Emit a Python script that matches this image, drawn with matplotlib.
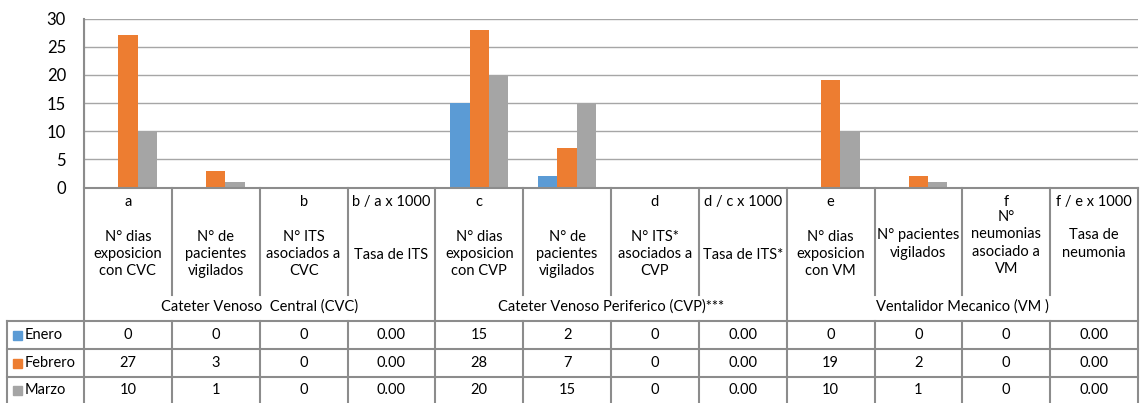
import numpy as np
import matplotlib.pyplot as plt

plt.rcParams['font.family'] = ['Lato', 'DejaVu Sans']

# data
letters = ['a', '', 'b', 'b / a x 1000', 'c', '', 'd', 'd / c x 1000',
           'e', '', 'f', 'f / e x 1000']
descriptions = ['N° dias\nexposicion\ncon CVC', 'N° de\npacientes\nvigilados',
                'N° ITS\nasociados a\nCVC', 'Tasa de ITS',
                'N° dias\nexposicion\ncon CVP', 'N° de\npacientes\nvigilados',
                'N° ITS*\nasociados a\nCVP', 'Tasa de ITS*',
                'N° dias\nexposicion\ncon VM', 'N° pacientes\nvigilados',
                'N°\nneumonias\nasociado a\nVM', 'Tasa de\nneumonia']
groups = ['Cateter Venoso  Central (CVC)', 'Cateter Venoso Periferico (CVP)***',
          'Ventalidor Mecanico (VM )']
months = ['Enero', 'Febrero', 'Marzo']
enero = [0, 0, 0, 0.00, 15, 2, 0, 0.00, 0, 0, 0, 0.00]
febrero = [27, 3, 0, 0.00, 28, 7, 0, 0.00, 19, 2, 0, 0.00]
marzo = [10, 1, 0, 0.00, 20, 15, 0, 0.00, 10, 1, 0, 0.00]
rate_cols = [3, 7, 11]
colors = ['#5B9BD5', '#ED7D31', '#A5A5A5']

W, H = 1141, 403
fig = plt.figure(figsize=(W / 100, H / 100), dpi=100)

# plot area in pixel units
x0, x1 = 84, 1138
y_top, y_zero = 18.5, 187.5
ax = fig.add_axes([x0 / W, 1 - y_zero / H, (x1 - x0) / W, (y_zero - y_top) / H])
n = len(letters)
idx = np.arange(n)
bw = 0.22
for k, vals in enumerate([enero, febrero, marzo]):
    ax.bar(idx + (k - 1) * bw, vals, bw, color=colors[k], zorder=3)
ax.set_xlim(-0.5, n - 0.5)
ax.set_ylim(0, 30)
ax.set_yticks(range(0, 31, 5))
ax.yaxis.grid(True, color='#A6A6A6', lw=1, zorder=0)
ax.set_xticks([])
for s in ['top', 'right', 'bottom']:
    ax.spines[s].set_visible(False)
ax.spines['left'].set_color('#A6A6A6')
ax.tick_params(axis='y', length=0, labelsize=12, pad=13, colors='black')

# table overlay in pixel coordinates
t = fig.add_axes([0, 0, 1, 1])
t.set_xlim(0, W)
t.set_ylim(H, 0)
t.axis('off')
lc = '#8C8C8C'
cw = (x1 - x0) / n
bounds = [x0 + i * cw for i in range(n + 1)]
rows_y = [321, 349, 377, 403]
fs = 10.5

t.plot([x0, x1], [y_zero, y_zero], color=lc, lw=1.5)
t.plot([x0, x0], [y_top, H], color=lc, lw=1.5)
t.plot([x1, x1], [y_zero, H], color=lc, lw=1.5)
for i in range(1, n):
    if i % 4 == 0:
        t.plot([bounds[i]] * 2, [y_zero, H], color=lc, lw=1.5)
    else:
        t.plot([bounds[i]] * 2, [y_zero, 295], color=lc, lw=1.5)
        t.plot([bounds[i]] * 2, [rows_y[0], H], color=lc, lw=1.5)
for y in rows_y[:3]:
    t.plot([7, x1], [y, y], color=lc, lw=1.5)
t.plot([7, 7], [rows_y[0], H], color=lc, lw=1.5)

desc_center = {1: 255, 2: 244, 3: 254, 4: 243}
for i in range(n):
    cx = (bounds[i] + bounds[i + 1]) / 2
    t.text(cx, 202, letters[i], ha='center', va='center', fontsize=fs)
    nl = descriptions[i].count('\n') + 1
    t.text(cx, desc_center[nl], descriptions[i], ha='center', va='center',
           fontsize=fs, linespacing=1.3)
for g in range(3):
    cx = (bounds[g * 4] + bounds[g * 4 + 4]) / 2
    t.text(cx, 307, groups[g], ha='center', va='center', fontsize=fs)

for r, (m, vals) in enumerate(zip(months, [enero, febrero, marzo])):
    yc = (rows_y[r] + rows_y[r + 1]) / 2
    t.add_patch(plt.Rectangle((12.5, yc - 4.5), 9, 9, color=colors[r]))
    t.text(25, yc, m, ha='left', va='center', fontsize=fs)
    for i, v in enumerate(vals):
        cx = (bounds[i] + bounds[i + 1]) / 2
        s = f'{v:.2f}' if i in rate_cols else f'{int(v)}'
        t.text(cx, yc, s, ha='center', va='center', fontsize=fs)

fig.savefig('out.png', dpi=100)
